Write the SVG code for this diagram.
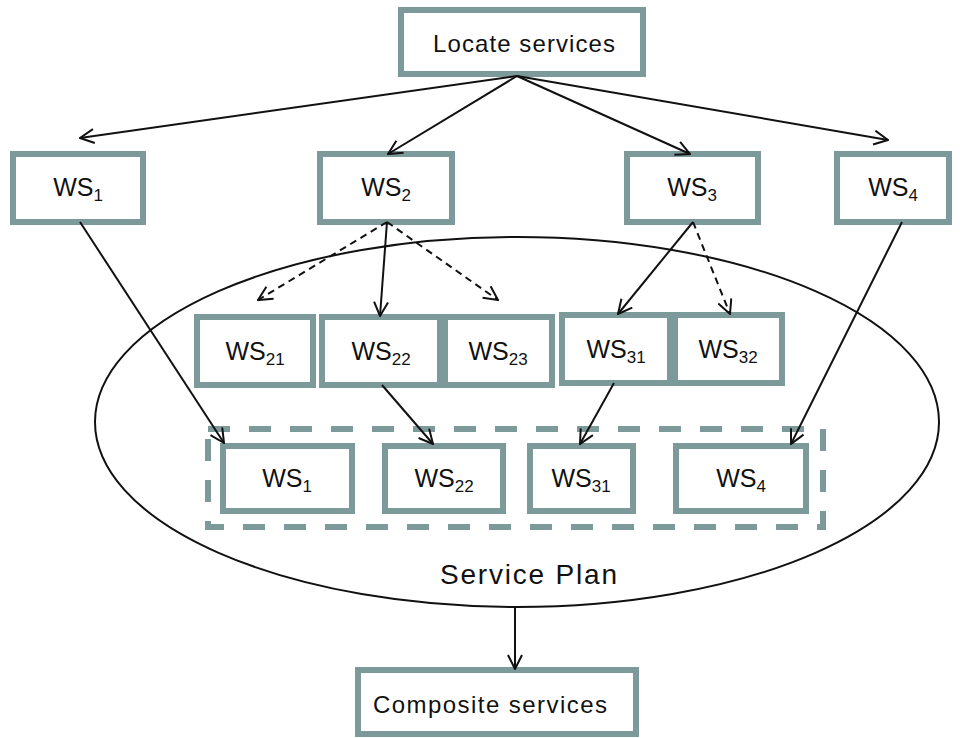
<svg xmlns="http://www.w3.org/2000/svg" width="960" height="738" viewBox="0 0 960 738">
<style>
.box{fill:#ffffff;stroke:#7d9a9a;stroke-width:6}
.lbl{font-family:"Liberation Sans",Arial,sans-serif;font-size:25px;fill:#111;text-anchor:middle}
.sub{font-size:17px}
.big{font-family:"Liberation Sans",Arial,sans-serif;fill:#111}
.c{stroke:#111;stroke-width:2;fill:none;marker-end:url(#ah)}
.d{stroke-dasharray:7 5}
</style>
<defs>
<marker id="ah" viewBox="0 0 16 16" refX="15" refY="8" markerWidth="16" markerHeight="16" markerUnits="userSpaceOnUse" orient="auto">
<path d="M1,1 L15,8 L1,15" fill="none" stroke="#111" stroke-width="2"/>
</marker>
</defs>
<rect width="960" height="738" fill="#ffffff"/>
<ellipse cx="517" cy="422" rx="422" ry="185" fill="none" stroke="#111" stroke-width="2"/>
<text class="big" x="440" y="584" font-size="28" textLength="177">Service Plan</text>
<rect x="208" y="429" width="615" height="98" fill="none" stroke="#7d9a9a" stroke-width="6" stroke-dasharray="22 19"/>
<g id="locate"><rect class="box" x="401" y="10" width="242" height="64"/><text class="big" x="433" y="52" font-size="24" textLength="182">Locate services</text></g>
<g id="ws1"><rect class="box" x="13" y="154" width="130" height="68"/><text class="lbl" x="78" y="196">WS<tspan class="sub" dy="5">1</tspan></text></g>
<g id="ws2"><rect class="box" x="320" y="154" width="132" height="68"/><text class="lbl" x="386" y="196">WS<tspan class="sub" dy="5">2</tspan></text></g>
<g id="ws3"><rect class="box" x="627" y="154" width="131" height="68"/><text class="lbl" x="692" y="196">WS<tspan class="sub" dy="5">3</tspan></text></g>
<g id="ws4"><rect class="box" x="837" y="154" width="112" height="68"/><text class="lbl" x="893" y="196">WS<tspan class="sub" dy="5">4</tspan></text></g>
<g id="ws21"><rect class="box" x="197" y="317" width="116" height="68"/><text class="lbl" x="255" y="360">WS<tspan class="sub" dy="5">21</tspan></text></g>
<g id="ws22"><rect class="box" x="322" y="317" width="118" height="68"/><text class="lbl" x="381" y="360">WS<tspan class="sub" dy="5">22</tspan></text></g>
<g id="ws23"><rect class="box" x="445" y="317" width="107" height="68"/><text class="lbl" x="498" y="360">WS<tspan class="sub" dy="5">23</tspan></text></g>
<g id="ws31"><rect class="box" x="562" y="315" width="108" height="68"/><text class="lbl" x="616" y="358">WS<tspan class="sub" dy="5">31</tspan></text></g>
<g id="ws32"><rect class="box" x="675" y="315" width="107" height="68"/><text class="lbl" x="728" y="358">WS<tspan class="sub" dy="5">32</tspan></text></g>
<g id="p-ws1"><rect class="box" x="223" y="446" width="129" height="65"/><text class="lbl" x="287" y="487">WS<tspan class="sub" dy="5">1</tspan></text></g>
<g id="p-ws22"><rect class="box" x="385" y="446" width="118" height="65"/><text class="lbl" x="444" y="487">WS<tspan class="sub" dy="5">22</tspan></text></g>
<g id="p-ws31"><rect class="box" x="530" y="446" width="103" height="65"/><text class="lbl" x="581" y="487">WS<tspan class="sub" dy="5">31</tspan></text></g>
<g id="p-ws4"><rect class="box" x="676" y="446" width="130" height="65"/><text class="lbl" x="741" y="487">WS<tspan class="sub" dy="5">4</tspan></text></g>
<g id="composite"><rect class="box" x="358" y="670" width="278" height="64"/><text class="big" x="373" y="713" font-size="24" textLength="234">Composite services</text></g>
<g id="connectors">
<path class="c" d="M517,76 L80,138"/>
<path class="c" d="M517,76 L388,154"/>
<path class="c" d="M517,76 L690,154"/>
<path class="c" d="M517,76 L888,140"/>
<path class="c d" d="M387,222 L258,300"/>
<path class="c" d="M387,222 L380,316"/>
<path class="c d" d="M387,222 L498,300"/>
<path class="c" d="M693,222 L618,314"/>
<path class="c d" d="M693,222 L730,314"/>
<path class="c" d="M80,222 L224,443"/>
<path class="c" d="M902,222 L791,444"/>
<path class="c" d="M382,385 L433,444"/>
<path class="c" d="M614,383 L580,444"/>
<path class="c" d="M515,607 L515,669"/>
</g>
</svg>
